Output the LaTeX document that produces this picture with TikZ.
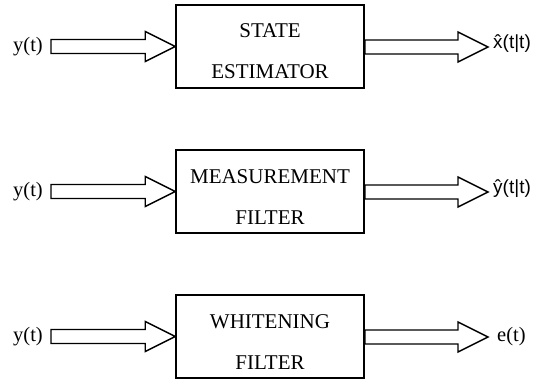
\documentclass[tikz,border=0pt]{standalone}
\usepackage{fontspec}
\setmainfont{Liberation Serif}
\newfontfamily\arialf{Liberation Sans}
\usetikzlibrary{calc}

% hollow block arrow from the x of #1 to the point #2 (tip), centred on the y of #2
\newcommand\hollowarrow[2]{%
  \draw[blockarrow] let \p1=(#1), \p2=(#2) in
    (\x1,\y2+7pt) -- (\x2-30pt,\y2+7pt) -- (\x2-30pt,\y2+15pt) -- (\x2,\y2)
    -- (\x2-30pt,\y2-15pt) -- (\x2-30pt,\y2-7pt) -- (\x1,\y2-7pt) -- cycle;}

\begin{document}
\begin{tikzpicture}[x=1pt,y=-1pt,
  block/.style={draw,line width=1.6pt,minimum width=188pt,minimum height=83pt,
    inner sep=0pt,align=center,font=\fontsize{21}{41}\selectfont},
  blockarrow/.style={draw,line width=1.4pt,line join=miter},
  seriflbl/.style={inner sep=0pt,font=\fontsize{20.5}{24}\selectfont},
  sanslbl/.style={inner sep=0pt,font=\arialf\fontsize{19}{22}\selectfont}]
\useasboundingbox (0,0) rectangle (536,384);

% processing blocks
\node[block] (b1) at (270,46.5)  {\rule{0pt}{24pt}STATE\\ESTIMATOR};
\node[block] (b2) at (270,191.5) {\rule{0pt}{24pt}MEASUREMENT\\FILTER};
\node[block] (b3) at (270,336.5) {\rule{0pt}{24pt}WHITENING\\FILTER};

% free ends of the block arrows
\coordinate (s1) at (51,47);
\coordinate (s2) at (51,192);
\coordinate (s3) at (51,337);
\coordinate (t1) at (488,47);
\coordinate (t2) at (488,192);
\coordinate (t3) at (488,337);

% inputs
\node[seriflbl,anchor=base east] (in1) at (43,51)  {y(t)};
\node[seriflbl,anchor=base east] (in2) at (43,196) {y(t)};
\node[seriflbl,anchor=base east] (in3) at (43,341) {y(t)};

% outputs
\node[sanslbl,anchor=base west] (out1) at (493,48)  {\^{x}(t|t)};
\node[sanslbl,anchor=base west] (out2) at (493,193) {\^{y}(t|t)};
\node[seriflbl,anchor=base west] (out3) at (497,341) {e(t)};

% block arrows
\hollowarrow{s1}{b1.west}
\hollowarrow{s2}{b2.west}
\hollowarrow{s3}{b3.west}
\hollowarrow{b1.east}{t1}
\hollowarrow{b2.east}{t2}
\hollowarrow{b3.east}{t3}
\end{tikzpicture}
\end{document}
